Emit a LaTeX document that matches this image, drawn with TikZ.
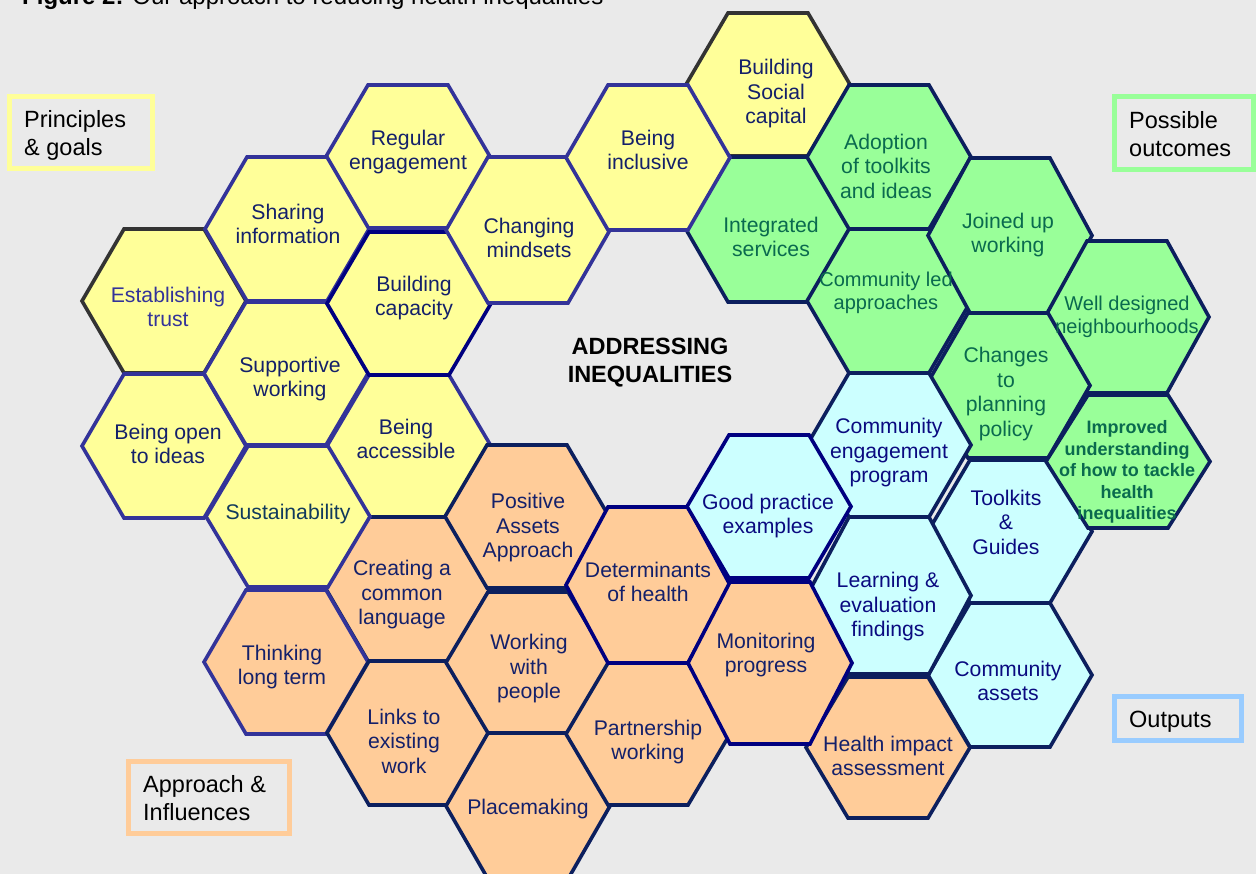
\documentclass[tikz,border=0pt]{standalone}
\usepackage{fontspec}
\setmainfont{Liberation Sans}
\definecolor{bgc}{HTML}{EAEAEA}
\definecolor{fillY}{HTML}{FFFF99}
\definecolor{fillG}{HTML}{99FF99}
\definecolor{fillC}{HTML}{CCFFFF}
\definecolor{fillO}{HTML}{FFCC99}
\definecolor{bPur}{HTML}{333399}
\definecolor{bGray}{HTML}{333333}
\definecolor{bNavy}{HTML}{0C1F5E}
\definecolor{bBlue}{HTML}{000080}
\definecolor{tNavy}{HTML}{14206A}
\definecolor{tGreen}{HTML}{0A6A4E}
\definecolor{tBlue}{HTML}{0A0A80}
\definecolor{tTeal}{HTML}{113A5C}
\definecolor{legY}{HTML}{FFFF99}
\definecolor{legG}{HTML}{99FF99}
\definecolor{legB}{HTML}{99CCFF}
\definecolor{legO}{HTML}{FFCC99}
% hexagon cell: centre x, top y, bottom y, style
\newcommand{\hexcell}[4]{%
  \draw[#4] ({#1-40},#2) -- ({#1+40},#2) -- ({#1+82},{(#2+#3)/2}) -- ({#1+40},#3) -- ({#1-40},#3) -- ({#1-82},{(#2+#3)/2}) -- cycle;}
\tikzset{
  hexbase/.style={line width=3.6pt, line join=miter},
  hYp/.style={hexbase, fill=fillY, draw=bPur},
  hYg/.style={hexbase, fill=fillY, draw=bGray},
  hYb/.style={hexbase, fill=fillY, draw=bBlue},
  hG/.style={hexbase, fill=fillG, draw=bNavy},
  hC/.style={hexbase, fill=fillC, draw=bNavy},
  hCb/.style={hexbase, fill=fillC, draw=bBlue},
  hO/.style={hexbase, fill=fillO, draw=bNavy},
  hOp/.style={hexbase, fill=fillO, draw=bPur},
  hOb/.style={hexbase, fill=fillO, draw=bBlue},
  lbl/.style={align=center, inner sep=0pt, yshift=-2pt, font=\fontsize{21.2}{24.5}\selectfont, text=tNavy},
  lblS/.style={lbl, font=\fontsize{20}{23.5}\selectfont},
  lblB/.style={lbl, font=\fontsize{18}{21.5}\selectfont\bfseries},
  legbox/.style={line width=5pt},
  legtext/.style={anchor=west, align=left, inner sep=0pt, font=\fontsize{23.5}{28}\selectfont, text=black},
}
\begin{document}
\begin{tikzpicture}[x=1pt, y=-1pt]
\useasboundingbox (0,0) rectangle (1256,874);
\clip (0,0) rectangle (1256,874);
\fill[bgc] (0,0) rectangle (1256,874);

% title (cut at the top)
\node[anchor=base west, inner sep=0pt, font=\fontsize{24}{28}\selectfont] (title) at (22,5) {\textbf{Figure 2:} Our approach to reducing health inequalities};

% ---- hexagons ----
\hexcell{164}{229}{373}{hYg}   % Establishing trust
\hexcell{768}{13}{156}{hYg}    % Building Social capital
\hexcell{408}{85}{228}{hYp}    % Regular engagement
\hexcell{287}{157}{301}{hYp}   % Sharing information
\hexcell{164}{374}{518}{hYp}   % Being open to ideas
\hexcell{286}{302}{445}{hYp}   % Supportive working
\hexcell{409}{375}{517}{hYp}   % Being accessible
\hexcell{409}{232}{375}{hYb}   % Building capacity
\hexcell{528}{157}{303}{hYp}   % Changing mindsets
% green
\hexcell{768}{157}{302}{hG}    % Integrated services
\hexcell{889}{85}{229}{hG}     % Adoption
\hexcell{889}{229}{373}{hG}    % Community led
\hexcell{1010}{158}{313}{hG}   % Joined up working
\hexcell{1127}{241}{393}{hG}   % Well designed
\hexcell{1008}{313}{458}{hG}   % Changes to planning policy
\hexcell{648}{85}{230}{hYp}    % Being inclusive
% cyan
\hexcell{889}{373}{517}{hC}    % Community engagement program
\hexcell{1010}{460}{603}{hC}   % Toolkits
\hexcell{1010}{603}{747}{hC}   % Community assets
\hexcell{889}{517}{674}{hC}    % Learning
\hexcell{1128}{395}{528}{hG}   % Improved understanding
% orange
\hexcell{408}{517}{661}{hO}    % Creating a common language
\hexcell{288}{446}{587}{hYp}   % Sustainability
\hexcell{286}{590}{734}{hOp}   % Thinking long term
\hexcell{409}{661}{805}{hO}    % Links to existing work
\hexcell{527}{445}{588}{hO}    % Positive Assets Approach
\hexcell{528}{592}{733}{hO}    % Working with people
\hexcell{528}{733}{879}{hO}    % Placemaking
\hexcell{648}{663}{805}{hO}    % Partnership working
\hexcell{888}{677}{818}{hO}    % Health impact assessment
\hexcell{648}{507}{663}{hOb}   % Determinants of health
\hexcell{769}{435}{578}{hCb}   % Good practice examples
\hexcell{770}{582}{744}{hOb}   % Monitoring progress

% ---- labels ----
\node[lbl, text=bPur] (trust) at (168,305) {Establishing\\trust};
\node[lbl] (sharing) at (288,222) {Sharing\\information};
\node[lbl] (regular) at (408,150) {Regular\\engagement};
\node[lbl] (capacity) at (414,296) {Building\\capacity};
\node[lbl] (supportive) at (290,377) {Supportive\\working};
\node[lbl] (open) at (168,442) {Being open\\to ideas};
\node[lbl] (accessible) at (406,437) {Being\\accessible};
\node[lbl, text=tTeal] (sustain) at (288,512) {Sustainability};
\node[lbl] (mindsets) at (529,236) {Changing\\mindsets};
\node[lbl] (inclusive) at (648,148) {Being\\inclusive};
\node[lbl] (social) at (776,92) {Building\\Social\\capital};

\node[lbl, text=tGreen] (adoption) at (886,164) {Adoption\\of toolkits\\and ideas};
\node[lbl, text=tGreen] (integrated) at (771,235) {Integrated\\services};
\node[lblS, text=tGreen] (commled) at (886,291) {Community led\\approaches};
\node[lbl, text=tGreen] (joined) at (1008,233) {Joined up\\working};
\node[lblS, text=tGreen] (welldesigned) at (1127,315) {Well designed\\neighbourhoods};
\node[lbl, text=tGreen] (changes) at (1006,392) {Changes\\to\\planning\\policy};
\node[lblB, text=tGreen] (improved) at (1127,470) {Improved\\understanding\\of how to tackle\\health\\inequalities};

\node[lbl, text=tBlue] (commeng) at (889,451) {Community\\engagement\\program};
\node[lbl, text=tBlue] (goodpractice) at (768,514) {Good practice\\examples};
\node[lbl, text=tBlue] (toolkits) at (1006,520) {Toolkits\\\&\\Guides};
\node[lbl, text=tBlue] (learning) at (888,605) {Learning \&\\evaluation\\findings};
\node[lbl, text=tBlue] (assets) at (1008,679) {Community\\assets};

\node[lbl] (positive) at (528,526) {Positive\\Assets\\Approach};
\node[lbl] (creating) at (402,593) {Creating a\\common\\language};
\node[lbl] (determinants) at (648,580) {Determinants\\of health};
\node[lbl] (thinking) at (282,665) {Thinking\\long term};
\node[lbl] (working) at (529,667) {Working\\with\\people};
\node[lbl] (links) at (404,739) {Links to\\existing\\work};
\node[lbl] (partnership) at (648,740) {Partnership\\working};
\node[lbl] (placemaking) at (528,807) {Placemaking};
\node[lbl] (monitoring) at (766,653) {Monitoring\\progress};
\node[lbl] (hia) at (888,754) {Health impact\\assessment};

\node[align=center, inner sep=0pt, font=\fontsize{23.5}{28}\selectfont\bfseries] (centre) at (650,363) {ADDRESSING\\INEQUALITIES};

% ---- legends ----
\draw[legbox, draw=legY] (9.5,96.5) rectangle (152.5,168.5);
\node[legtext] (principles) at (24,135) {Principles\\\& goals};
\draw[legbox, draw=legG] (1114.5,96.5) rectangle (1253.5,169.5);
\node[legtext] (outcomes) at (1129,134) {Possible\\outcomes};
\draw[legbox, draw=legB] (1114.5,696.5) rectangle (1241.5,740.5);
\node[legtext] (outputs) at (1129,722) {Outputs};
\draw[legbox, draw=legO] (128.5,761.5) rectangle (289.5,833.5);
\node[legtext] (approach) at (143,798) {Approach \&\\Influences};
\end{tikzpicture}
\end{document}
